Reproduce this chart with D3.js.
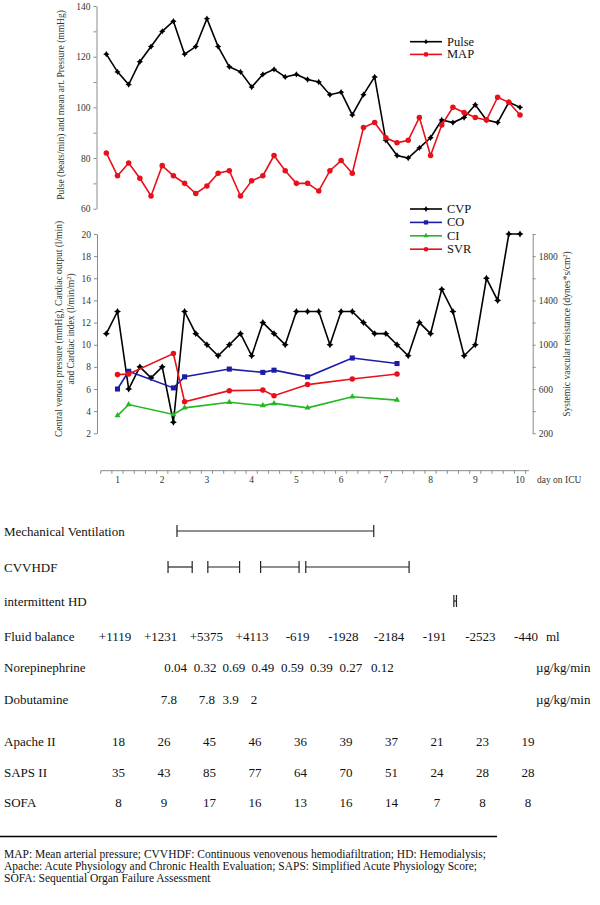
<!DOCTYPE html>
<html><head><meta charset="utf-8">
<script src="https://cdn.jsdelivr.net/npm/d3@7"></script>
<style>
body{margin:0;background:#fff;}
svg{display:block;font-family:"Liberation Serif","Times New Roman",serif;}
</style></head><body>
<svg id="c" width="600" height="905"></svg>
<script>
// ---------- data ----------
const pulse = [121,114,109,118,124,130,134,121,124,135,124,116,114,108,113,115,112,113,111,110,105,106,97,105,112,87,81,80,84,88,95,94,96,101,95,94,102,100];
const mapv  = [82,73,78,72,65,77,73,70,66,69,74,75,65,71,73,81,75,70,70,67,75,79,74,92,94,88,86,87,96,81,93,100,98,96,95,104,102,97];
const cvp   = [11,13,6,8,7,8,3,13,11,10,9,10,11,9,12,11,10,13,13,13,10,13,13,12,11,11,10,9,12,11,15,13,9,10,16,14,20,20];
const hemoIdx = [1,2,6,7,11,14,15,18,22,26];
const co  = [6.0,7.6,6.1,7.1,7.8,7.5,7.7,7.1,8.8,8.3];
const ci  = [3.6,4.6,3.7,4.3,4.8,4.5,4.7,4.3,5.3,5.0];
const svr = [730,735,920,485,585,590,540,640,690,735];
const days = [1,2,3,4,5,6,7,8,9,10];
const fluid = ["+1119","+1231","+5375","+4113","-619","-1928","-2184","-191","-2523","-440"];
const noreTimes = [2.3,2.96,3.6,4.25,4.91,5.56,6.22,6.92];
const nore = ["0.04","0.32","0.69","0.49","0.59","0.39","0.27","0.12"];
const dobuTimes = [2.15,3.0,3.53,4.05];
const dobu = ["7.8","7.8","3.9","2"];
const apache = [18,26,45,46,36,39,37,21,23,19];
const saps = [35,43,85,77,64,70,51,24,28,28];
const sofa = [8,9,17,16,13,16,14,7,8,8];
const mechVent = [[2.33,6.73]];
const cvvhdf = [[2.13,2.67],[3.02,3.73],[4.2,5.06],[5.21,7.52]];
const hdDays = [8.55];
const footnote = [
 "MAP: Mean arterial pressure; CVVHDF: Continuous venovenous hemodiafiltration; HD: Hemodialysis;",
 "Apache: Acute Physiology and Chronic Health Evaluation; SAPS: Simplified Acute Physiology Score;",
 "SOFA: Sequential Organ Failure Assessment"];

// ---------- setup ----------
const svg = d3.select("#c");
const RED="#e8101a", BLUE="#1c1ca8", GREEN="#22b822", AX="#8a8a8a", TX="#333";
const FS = "13px";
const dayX = d3.scaleLinear().domain([1,10]).range([117.5,520]);
const mX = i => dayX(0.75 + i*0.25);   // measurement every 6 h

const star4 = {draw(ctx,size){const r=Math.sqrt(size),s=r*0.38;
  ctx.moveTo(0,-r);ctx.lineTo(s,-s);ctx.lineTo(r,0);ctx.lineTo(s,s);ctx.lineTo(0,r);ctx.lineTo(-s,s);ctx.lineTo(-r,0);ctx.lineTo(-s,-s);ctx.closePath();}};

function styleAxis(g){
  g.select(".domain").attr("stroke",AX);
  g.selectAll(".tick line").attr("stroke",AX);
  g.selectAll(".tick text").attr("fill",TX).style("font-size","9.5px").style("font-family","Liberation Serif");
}
function series(vals, xs, y, color, sym, size){
  const pts = vals.map((v,i)=>[xs(i), y(v)]);
  svg.append("path").attr("d", d3.line()(pts)).attr("fill","none").attr("stroke",color).attr("stroke-width",1.6);
  svg.append("g").selectAll("path").data(pts).join("path")
    .attr("transform",d=>`translate(${d[0]},${d[1]})`)
    .attr("d", d3.symbol(sym,size)()).attr("fill",color);
}
function legend(items, x0, y0, dy){
  items.forEach((it,k)=>{
    const y=y0+k*dy;
    svg.append("line").attr("x1",x0).attr("x2",x0+32).attr("y1",y).attr("y2",y).attr("stroke",it.c).attr("stroke-width",1.6);
    svg.append("path").attr("transform",`translate(${x0+16},${y})`).attr("d",d3.symbol(it.s,it.z*0.7)()).attr("fill",it.c);
    svg.append("text").attr("x",x0+37).attr("y",y+4).text(it.t).style("font-size","12.5px").attr("fill","#111");
  });
}

// ---------- top chart ----------
const yTop = d3.scaleLinear().domain([60,140]).range([208.7,6]);
svg.append("g").attr("transform","translate(96.5,0)")
  .call(d3.axisLeft(yTop).tickValues(d3.range(60,141,10)).tickSize(3).tickSizeOuter(0).tickFormat(d=>d%20===0?d:""))
  .call(styleAxis);
svg.append("text").attr("transform","translate(63.5,105) rotate(-90)").attr("text-anchor","middle")
  .style("font-size","9.5px").attr("fill",TX).text("Pulse (beats/min) and mean art. Pressure (mmHg)");
series(pulse, mX, yTop, "#000", star4, 10);
series(mapv, mX, yTop, RED, d3.symbolCircle, 24);
legend([{t:"Pulse",c:"#000",s:star4,z:10},{t:"MAP",c:RED,s:d3.symbolCircle,z:24}], 410, 41.7, 12.7);

// ---------- bottom chart ----------
const yL = d3.scaleLinear().domain([2,20]).range([433.3,234]);
const yR = d3.scaleLinear().domain([200,2000]).range([433.3,234]);
svg.append("g").attr("transform","translate(97,0)")
  .call(d3.axisLeft(yL).tickValues(d3.range(2,21,2)).tickSize(3).tickSizeOuter(0))
  .call(styleAxis);
svg.append("g").attr("transform","translate(532.7,0)")
  .call(d3.axisRight(yR).tickValues(d3.range(200,2001,200)).tickSize(3).tickSizeOuter(0)
    .tickFormat(d=>((d-200)%400===0 && d<2000)?d:""))
  .call(styleAxis);
const tl = svg.append("text").attr("transform","translate(62,329) rotate(-90)").attr("text-anchor","middle")
  .style("font-size","9.5px").attr("fill",TX);
tl.append("tspan").attr("x",0).attr("dy",0).text("Central venous pressure (mmHg), Cardiac output (l/min)");
tl.append("tspan").attr("x",0).attr("dy",11.5).text("and Cardiac index (l/min/m");
tl.append("tspan").attr("dy",-3).style("font-size","6.5px").text("2");
tl.append("tspan").attr("dy",3).text(")");
const tr = svg.append("text").attr("transform","translate(570,334) rotate(-90)").attr("text-anchor","middle")
  .style("font-size","9.5px").attr("fill",TX);
tr.append("tspan").text("Systemic vascular resistance (dynes*s/cm");
tr.append("tspan").attr("dy",-3).style("font-size","6.5px").text("2");
tr.append("tspan").attr("dy",3).text(")");

const hX = i => mX(hemoIdx[i]);
series(cvp, mX, yL, "#000", star4, 12);
series(co, hX, yL, BLUE, d3.symbolSquare, 26);
series(ci, hX, yL, GREEN, d3.symbolTriangle, 16);
series(svr, hX, yR, RED, d3.symbolCircle, 24);
legend([{t:"CVP",c:"#000",s:star4,z:12},{t:"CO",c:BLUE,s:d3.symbolSquare,z:26},
        {t:"CI",c:GREEN,s:d3.symbolTriangle,z:16},{t:"SVR",c:RED,s:d3.symbolCircle,z:24}], 410, 209, 13.4);

// ---------- day axis ----------
const xa = svg.append("g");
xa.append("line").attr("x1",dayX(0.625)).attr("x2",dayX(10.2)).attr("y1",470.7).attr("y2",470.7).attr("stroke",AX);
xa.selectAll("line.tk").data(d3.range(39)).join("line").attr("class","tk")
  .attr("x1",k=>dayX(0.625+k*0.25)).attr("x2",k=>dayX(0.625+k*0.25)).attr("y1",470.7).attr("y2",473.7).attr("stroke",AX);
xa.selectAll("text").data(days).join("text").attr("x",d=>dayX(d)).attr("y",482.5).attr("text-anchor","middle")
  .style("font-size","9.5px").attr("fill",TX).text(d=>d);
svg.append("text").attr("x",537).attr("y",482.5).style("font-size","9.5px").attr("fill",TX).text("day on ICU");

// ---------- table ----------
const rowY = {mv:531, cv:567, hd:601, fb:636, ne:667, db:699, ap:741, sa:772, so:802};
const lab = (t,y)=>svg.append("text").attr("x",4).attr("y",y+4.5).style("font-size",FS).attr("fill","#111").text(t);
lab("Mechanical Ventilation",rowY.mv); lab("CVVHDF",rowY.cv); lab("intermittent HD",rowY.hd);
lab("Fluid balance",rowY.fb); lab("Norepinephrine",rowY.ne); lab("Dobutamine",rowY.db);
lab("Apache II",rowY.ap); lab("SAPS II",rowY.sa); lab("SOFA",rowY.so);

function bars(data,y,h){
  const g=svg.append("g").attr("stroke","#222").attr("stroke-width",1.2);
  data.forEach(([a,b])=>{
    g.append("line").attr("x1",dayX(a)).attr("x2",dayX(b)).attr("y1",y).attr("y2",y);
    g.append("line").attr("x1",dayX(a)).attr("x2",dayX(a)).attr("y1",y-h).attr("y2",y+h);
    g.append("line").attr("x1",dayX(b)).attr("x2",dayX(b)).attr("y1",y-h).attr("y2",y+h);
  });
}
bars(mechVent,rowY.mv,6);
bars(cvvhdf,rowY.cv,6);
hdDays.forEach(d=>{
  const g=svg.append("g").attr("stroke","#222").attr("stroke-width",1.2);
  g.append("line").attr("x1",dayX(d)-1.3).attr("x2",dayX(d)-1.3).attr("y1",rowY.hd-6).attr("y2",rowY.hd+6);
  g.append("line").attr("x1",dayX(d)+1.3).attr("x2",dayX(d)+1.3).attr("y1",rowY.hd-6).attr("y2",rowY.hd+6);
  g.append("line").attr("x1",dayX(d)-1.3).attr("x2",dayX(d)+1.3).attr("y1",rowY.hd).attr("y2",rowY.hd);
});

const fluidX = d3.scalePoint().domain(days).range([115,526]);
const scoreX = d3.scalePoint().domain(days).range([118.5,528]);
function rowText(vals, xf, y){
  svg.append("g").selectAll("text").data(vals).join("text")
    .attr("x",(d,i)=>xf(i)).attr("y",y+4.5).attr("text-anchor","middle")
    .style("font-size",FS).attr("fill","#111").text(d=>d);
}
rowText(fluid, i=>fluidX(days[i]), rowY.fb);
svg.append("text").attr("x",546).attr("y",rowY.fb+4.5).style("font-size",FS).attr("fill","#111").text("ml");
rowText(nore, i=>dayX(noreTimes[i]), rowY.ne);
rowText(dobu, i=>dayX(dobuTimes[i]), rowY.db);
svg.append("text").attr("x",536).attr("y",rowY.ne+4.5).style("font-size",FS).attr("fill","#111").text("µg/kg/min");
svg.append("text").attr("x",536).attr("y",rowY.db+4.5).style("font-size",FS).attr("fill","#111").text("µg/kg/min");
rowText(apache, i=>scoreX(days[i]), rowY.ap);
rowText(saps, i=>scoreX(days[i]), rowY.sa);
rowText(sofa, i=>scoreX(days[i]), rowY.so);

// ---------- footnote ----------
svg.append("line").attr("x1",0).attr("x2",497).attr("y1",836.5).attr("y2",836.5).attr("stroke","#000").attr("stroke-width",1.6);
svg.append("g").selectAll("text").data(footnote).join("text").attr("x",4).attr("y",(d,i)=>858+i*12)
  .style("font-size","11.5px").attr("fill","#111").text(d=>d);
</script></body></html>
